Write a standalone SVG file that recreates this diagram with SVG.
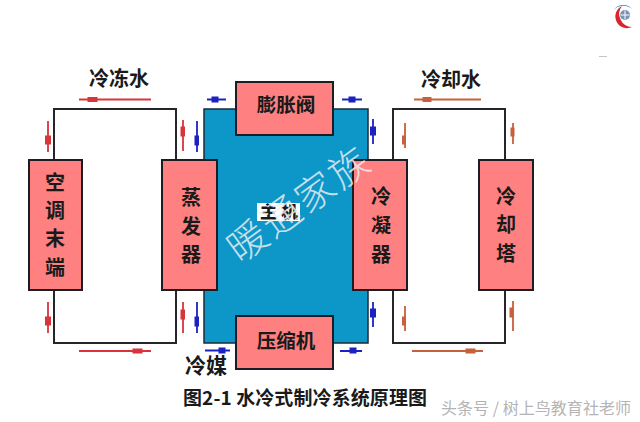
<svg xmlns="http://www.w3.org/2000/svg" width="640" height="422" viewBox="0 0 640 422">
<defs><style>
text{font-family:"Noto Sans CJK SC","Liberation Sans",sans-serif;fill:#1a1a1a}
.box{fill:#ff8080;stroke:#1c1c24;stroke-width:2}
.pipe{fill:none;stroke:#26262a;stroke-width:2}
.lb{font-size:19.500px;font-weight:700;text-anchor:middle}
.v{font-size:20px;font-weight:700;text-anchor:middle}
.r{stroke:#d8343c;fill:#d8343c}.b{stroke:#1c22c0;fill:#1c22c0}.o{stroke:#c8603c;fill:#c8603c}
.ln{stroke-width:1.800}
</style></defs>
<rect width="640" height="422" fill="#fff"/>
<g id="logo"><path d="M622 6 A11 11 0 0 0 632 27 A13 13 0 0 1 622 6Z" fill="#d8262c"/><path d="M614 10 A11 9 0 0 1 632 9 A10 8 0 0 0 614 10Z" fill="#2a8cc8"/><circle cx="625" cy="15" r="5" fill="#7c93b8"/><path d="M625 10.500V19.500M620.500 15H629.500" stroke="#fff"/></g>
<rect x="599" y="56" width="8" height="1" fill="#c4c4c4"/>
<g id="connectors">
<path class="pipe" d="M54 160V109H176V160M54 290V343H176V290M393 160V109H505V160M393 290V343H505V290"/>
<g class="r"><path class="ln" d="M79 99.500H151M48 121V152M183 120V151M48 302V333M183 302V333M79 351H151"/><rect x="88" y="97.500" width="9" height="4"/><rect x="45.500" y="136" width="5" height="8"/><rect x="181" y="127" width="3.500" height="9"/><rect x="45.500" y="317" width="5" height="8"/><rect x="181" y="310" width="3.500" height="9"/><rect x="133" y="349" width="9" height="4"/></g>
<g class="b"><path class="ln" d="M207 99.500H226M197 121V152M197 302V333M205 350.500H230M342 99.500H362M373 119V144M373 302V327M340 351H362"/><rect x="212" y="97" width="6" height="5"/><rect x="195" y="136" width="3.500" height="9"/><rect x="195" y="317" width="3.500" height="9"/><rect x="219" y="348" width="6" height="5"/><rect x="349" y="97" width="6" height="5"/><rect x="370.500" y="127" width="5" height="8"/><rect x="370.500" y="309" width="5" height="8"/><rect x="350" y="348" width="6" height="5"/></g>
<g class="o"><path class="ln" d="M414 99.500H481M405 123V148M513 123V144M405 306V331M513 301V331M412 351H483"/><rect x="423" y="97.500" width="8" height="4"/><rect x="402.500" y="136" width="3" height="8"/><rect x="511" y="128" width="3" height="8"/><rect x="402.500" y="317" width="3" height="8"/><rect x="510" y="308" width="3" height="9"/><rect x="466" y="349" width="9" height="4"/></g>
</g>
<g id="main"><rect x="204" y="109" width="164" height="234" fill="#0d97c8" stroke="#1c2a38" stroke-width="1.500"/><rect x="257" y="203" width="43" height="18" fill="#fff"/><text x="279" y="218" class="lb" style="font-size:17px;font-weight:900">主 机</text></g>
<g id="valve"><rect class="box" x="236" y="82" width="97" height="53"/><text class="lb" x="286" y="112">膨胀阀</text></g>
<g id="compressor"><rect class="box" x="236" y="316" width="97" height="53"/><text class="lb" x="286" y="348">压缩机</text></g>
<g id="terminal"><rect class="box" x="29" y="160" width="53" height="130"/><text class="v" x="55" y="190">空</text><text class="v" x="55" y="218">调</text><text class="v" x="55" y="246">末</text><text class="v" x="55" y="275">端</text></g>
<g id="evaporator"><rect class="box" x="162" y="160" width="55" height="130"/><text class="v" x="191" y="205">蒸</text><text class="v" x="191" y="234">发</text><text class="v" x="191" y="262">器</text></g>
<g id="condenser"><rect class="box" x="353" y="160" width="54" height="130"/><text class="v" x="381" y="204">冷</text><text class="v" x="381" y="233">凝</text><text class="v" x="381" y="262">器</text></g>
<g id="tower"><rect class="box" x="479" y="160" width="54" height="130"/><text class="v" x="506" y="204">冷</text><text class="v" x="506" y="232">却</text><text class="v" x="506" y="261">塔</text></g>
<text class="lb" x="119" y="86" style="font-size:20px">冷冻水</text>
<text class="lb" x="451" y="87" style="font-size:20px">冷却水</text>
<text class="lb" x="206" y="373" style="font-size:21px">冷媒</text>
<text x="183" y="405" style="font-size:19px;font-weight:700" textLength="244">图2-1 水冷式制冷系统原理图</text>
<text x="441" y="414" style="font-size:16px;fill:#b4b4b4" textLength="190">头条号 / 树上鸟教育社老师</text>
<text transform="translate(240 264) rotate(-36)" style='font-family:"Noto Sans CJK SC",sans-serif;font-size:39px;fill:#e8eef2;fill-opacity:.85;font-weight:300' textLength="164">暖通家族</text>
</svg>
